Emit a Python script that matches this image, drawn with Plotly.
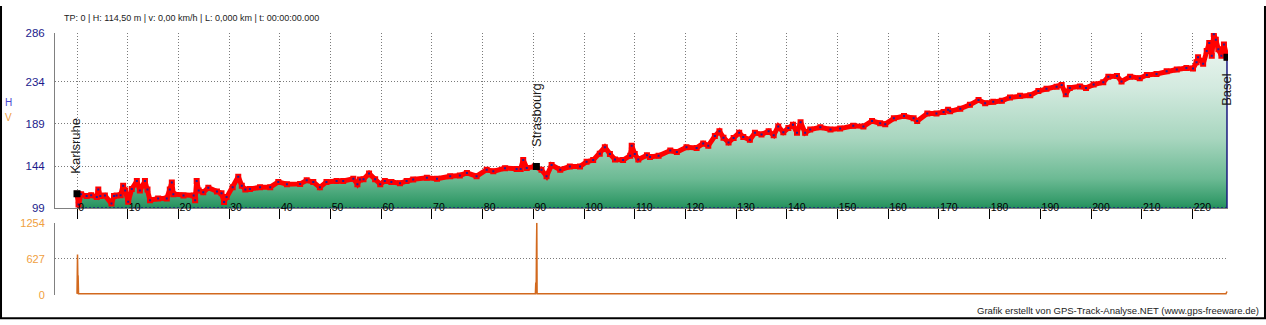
import plotly.graph_objects as go

# ---------------- data ----------------
elev_km = [0.0, 0.3, 0.8, 1.9, 2.8, 3.9, 4.2, 4.6, 5.5, 6.8, 7.3, 7.8, 8.6, 9.1, 9.5, 10.1, 10.8, 11.8, 12.4, 13.4,
           13.9, 14.4, 16.0, 17.7, 18.3, 18.7, 19.0, 21.0, 23.0, 23.3, 23.6, 24.0, 24.9, 25.9, 27.6, 28.5, 29.0, 29.5,
           30.7, 31.8, 32.5, 33.2, 34.1, 36.1, 38.1, 39.7, 41.4, 44.0, 45.3, 46.6, 47.9, 49.2, 51.2, 52.5, 54.5, 55.3,
           55.8, 56.5, 57.6, 58.8, 59.8, 60.7, 62.0, 63.7, 65.0, 66.3, 69.0, 71.0, 73.6, 75.5, 76.9, 78.8, 80.8, 82.1,
           84.4, 86.7, 87.5, 88.0, 88.7, 90.3, 91.6, 92.6, 93.6, 95.3, 97.2, 99.2, 100.5, 101.8, 103.1, 104.1, 105.1,
           106.1, 107.7, 109.1, 109.4, 110.0, 110.7, 112.4, 113.0, 114.7, 117.0, 118.3, 120.2, 122.2, 123.5, 124.5,
           125.8, 126.7, 127.5, 128.5, 129.5, 130.6, 131.4, 132.7, 133.7, 135.0, 136.4, 137.4, 138.3, 139.3, 140.3,
           141.2, 142.0, 142.7, 143.6, 144.6, 146.6, 148.6, 150.5, 153.1, 155.1, 156.8, 158.4, 159.4, 161.1, 163.1,
           165.0, 165.7, 167.7, 169.5, 170.9, 171.8, 172.2, 174.2, 176.1, 177.8, 179.1, 180.7, 182.4, 184.0, 186.0,
           188.0, 189.6, 191.2, 193.2, 194.2, 195.0, 195.8, 197.8, 199.0, 200.5, 202.4, 203.4, 205.1, 206.0, 207.7,
           209.6, 211.0, 212.9, 214.9, 216.9, 218.8, 220.1, 220.8, 221.1, 222.1, 222.8, 223.3, 223.8, 224.2, 224.6,
           225.1, 225.7, 226.2, 226.8]
elev_m = [114.5, 103, 114, 112, 113, 111, 119, 112, 112.7, 104, 112, 112.7, 113, 123, 118, 106, 119.6, 128, 118, 128,
          119, 107.6, 109.3, 109.5, 119, 126.4, 114, 112.7, 112.7, 107.6, 128, 118, 116, 121, 116.8, 115, 105.8, 111,
          121.3, 132.6, 123, 119, 119.5, 121.3, 121.5, 127.1, 124.7, 125, 128.8, 127, 121.3, 127.1, 128.1, 128.1, 130.5, 124.7,
          129.8, 130, 136, 130, 124.7, 128.1, 127, 125.7, 128, 129.8, 131.5, 130.5, 133.2, 134, 136.7, 133.2, 140.1, 138.4,
          141.8, 140.8, 141, 150.4, 142, 143.5, 140, 133.2, 145.2, 140.1, 143.5, 143.5, 148.6, 150.4, 157.2, 164.1, 157,
          151, 150.4, 155, 165.8, 157, 151, 155.5, 153.8, 155, 160.6, 159, 164.1, 163.4, 168.2, 165.8,
          176.1, 181.2, 174.3, 169.2, 174, 179.5, 175, 172, 179.5, 177.8, 181.2, 177, 186.3, 180, 184.6,
          188, 179.5, 190.8, 179.5, 182.9, 185.3, 183, 184, 187, 186.3, 192.1, 189.7, 188.7, 194.9, 197.3,
          194.9, 192, 200, 200, 201.7, 204, 202.4, 205.2, 209.3, 214.4, 211, 212.7, 213.7, 217.2, 218.9,
          219.6, 224, 226.4, 228.5, 230.5, 220.6, 227.4, 229, 227.4, 230.9, 233.3, 239.4, 240.1, 234.3, 239.4,
          237.7, 241.1, 242.2, 245.2, 247, 248.7, 248, 254.8, 260, 253.1, 266.8, 275.4, 261.7, 284.6, 278.8,
          268.5, 261.7, 273.7, 260]

speed_km = [0.0, 0.02, 0.10, 0.16, 0.22, 0.30, 20.0, 50.0, 90.40, 90.48, 90.55, 90.62, 90.68, 90.74, 90.80, 90.90,
            130.0, 180.0, 226.6, 226.8]
speed_kmh = [18, 334, 702, 334, 330, 20, 19, 21, 20, 217, 20, 836, 1254, 20, 22, 20, 21, 19, 20, 60]

cities = ["Karlsruhe", "Strasbourg", "Basel"]
city_km = [0.0, 90.6, 226.8]
city_m = [114.5, 143.5, 260.0]
city_above = [True, True, False]

elev_ticks = [99, 144, 189, 234, 286]
speed_ticks = [0, 627, 1254]
km_ticks = list(range(0, 230, 10))

header = "TP: 0 | H: 114,50 m | v: 0,00 km/h | L: 0,000 km | t: 00:00:00.000"
credit = "Grafik erstellt von GPS-Track-Analyse.NET (www.gps-freeware.de)"

# ---------------- figure ----------------
W, H = 1266, 325
FONT = "Liberation Sans, Arial, sans-serif"
GRID = "#7a7a7a"
GRID_DASH = "1px,2px"
ELEV_COL = "#1c1c8c"
SPEED_COL = "#f0a040"

def px_x(p):
    return p / W

def px_y(p):
    return 1 - p / H

fig = go.Figure()

fig.add_trace(go.Scatter(
    x=elev_km, y=elev_m, mode="lines", line=dict(width=0, color="rgba(0,0,0,0)"),
    fill="tozeroy",
    fillgradient=dict(type="vertical", start=99, stop=286,
                      colorscale=[[0, "#0a7d42"], [0.06, "#2f9866"], [0.2, "#6cba94"],
                                  [0.42, "#a8d6bf"], [0.7, "#d3eadf"], [1, "#f2f9f5"]]),
    hoverinfo="skip", showlegend=False, xaxis="x", yaxis="y"))

# navy outline of the filled area (baseline and end)
fig.add_trace(go.Scatter(
    x=[elev_km[0], elev_km[-1]], y=[elev_ticks[0], elev_ticks[0]], mode="lines",
    line=dict(color="#1a1a80", width=2, dash="2px,2px"), hoverinfo="skip", showlegend=False))
fig.add_trace(go.Scatter(
    x=[elev_km[-1], elev_km[-1]], y=[elev_ticks[0], elev_m[-1]], mode="lines",
    line=dict(color="#1a1a80", width=1.5), hoverinfo="skip", showlegend=False))

# red elevation band
fig.add_trace(go.Scatter(
    x=elev_km, y=elev_m, mode="lines+markers",
    line=dict(color="#ff0000", width=5),
    marker=dict(symbol="square", size=6, color="#ff0000", line=dict(width=0)),
    hoverinfo="skip", showlegend=False, xaxis="x", yaxis="y"))
# small navy track points
fig.add_trace(go.Scatter(
    x=elev_km, y=elev_m, mode="markers",
    marker=dict(symbol="square", size=2, color="#202098", line=dict(width=0)),
    hoverinfo="skip", showlegend=False, xaxis="x", yaxis="y"))

fig.add_trace(go.Scatter(
    x=city_km, y=city_m, mode="markers",
    marker=dict(symbol="square", size=7, color="black"),
    hoverinfo="skip", showlegend=False, xaxis="x", yaxis="y"))

fig.add_trace(go.Scatter(
    x=speed_km, y=speed_kmh, mode="lines", line=dict(color="#d2691e", width=1.5),
    hoverinfo="skip", showlegend=False, xaxis="x2", yaxis="y2"))

xdom = [px_x(55), px_x(1228)]
xrange_ = [-4.34, 227.0]

fig.update_layout(
    width=W, height=H, margin=dict(l=0, r=0, t=0, b=0),
    paper_bgcolor="white", plot_bgcolor="white",
    font=dict(family=FONT, color="#222222"),
    showlegend=False,
    xaxis=dict(domain=xdom, range=xrange_, anchor="y", tickvals=km_ticks,
               showgrid=True, gridcolor=GRID, griddash=GRID_DASH, gridwidth=1,
               showline=True, linecolor="#808080", linewidth=1, zeroline=False,
               ticks="outside", ticklen=10, tickwidth=1.3, tickcolor="black",
               ticklabelposition="outside right", ticklabelstandoff=-11,
               tickfont=dict(size=10.5, color="black", family=FONT)),
    yaxis=dict(domain=[px_y(210), px_y(28)], range=[99, 286], anchor="x",
               tickvals=elev_ticks, showgrid=True, gridcolor=GRID, griddash=GRID_DASH,
               gridwidth=1, showline=True, linecolor="#808080", linewidth=1,
               zeroline=False, ticks="", ticklabelstandoff=7,
               tickfont=dict(size=11.5, color=ELEV_COL, family=FONT)),
    xaxis2=dict(domain=xdom, range=xrange_, anchor="y2", showticklabels=False,
                showgrid=False, showline=False, zeroline=False, ticks=""),
    yaxis2=dict(domain=[px_y(300), px_y(225)], range=[0, 1254], anchor="x2",
                tickvals=speed_ticks, showgrid=True, gridcolor=GRID, griddash=GRID_DASH,
                gridwidth=1, showline=True, linecolor="#808080", linewidth=1,
                zeroline=False, ticks="", ticklabelstandoff=7,
                tickfont=dict(size=11, color=SPEED_COL, family=FONT)),
)

ann = []
ann.append(dict(text=header, x=px_x(62), y=px_y(12), xref="paper", yref="paper",
                xanchor="left", yanchor="middle", showarrow=False,
                font=dict(size=9, color="#222222", family=FONT)))
ann.append(dict(text=credit, x=px_x(1261), y=px_y(316), xref="paper", yref="paper",
                xanchor="right", yanchor="middle", showarrow=False,
                font=dict(size=9.5, color="#222222", family=FONT)))
ann.append(dict(text="H", x=px_x(8), y=px_y(100), xref="paper", yref="paper",
                xanchor="center", yanchor="middle", showarrow=False,
                font=dict(size=10, color="#4848d0", family=FONT)))
ann.append(dict(text="V", x=px_x(8), y=px_y(116), xref="paper", yref="paper",
                xanchor="center", yanchor="middle", showarrow=False,
                font=dict(size=10, color=SPEED_COL, family=FONT)))
for name, k, m, above in zip(cities, city_km, city_m, city_above):
    ann.append(dict(text=name, x=k, y=m, xref="x", yref="y", textangle=-90,
                    xanchor="center", yanchor="bottom" if above else "top",
                    yshift=18 if above else -13, xshift=-1 if k < 1 else 0,
                    showarrow=False, font=dict(size=13, color="#1a1a1a", family=FONT)))
fig.update_layout(annotations=ann)

# outer frame (left, right, bottom)
fig.update_layout(shapes=[
    dict(type="line", xref="paper", yref="paper", x0=0.0008, x1=0.0008, y0=0, y1=1,
         line=dict(color="black", width=2)),
    dict(type="line", xref="paper", yref="paper", x0=0.9992, x1=0.9992, y0=0, y1=1,
         line=dict(color="black", width=2)),
    dict(type="line", xref="paper", yref="paper", x0=0, x1=1, y0=0.002, y1=0.002,
         line=dict(color="black", width=2)),
])

fig.write_html("out.html")
